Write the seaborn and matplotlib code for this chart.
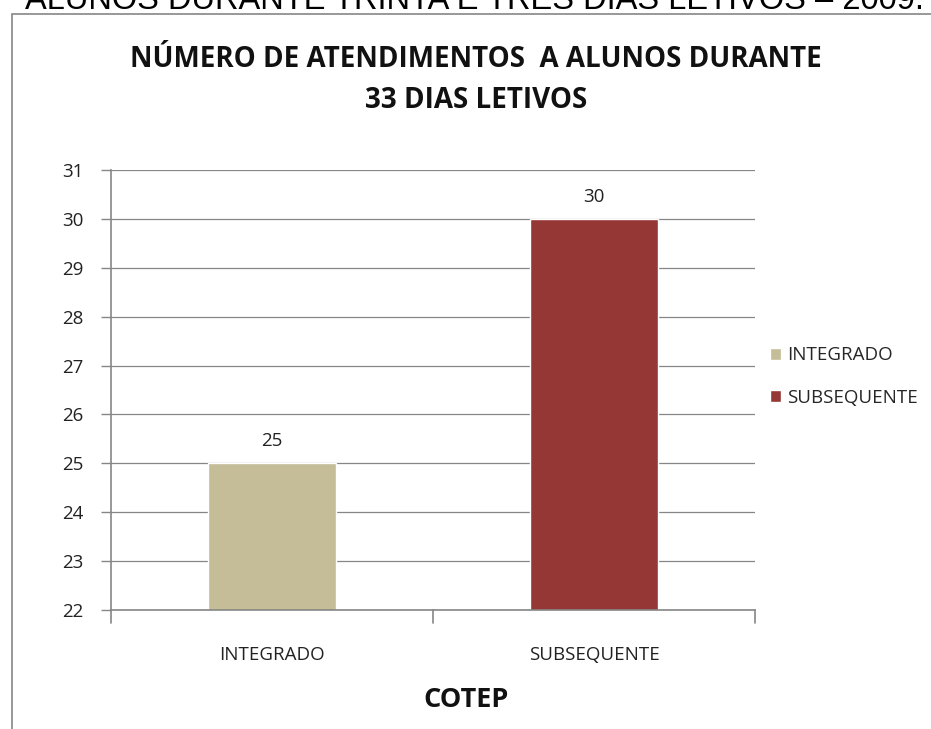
import matplotlib
matplotlib.use("Agg")
import matplotlib.pyplot as plt
import seaborn as sns
import pandas as pd
from matplotlib.patches import Rectangle

categories = ["INTEGRADO", "SUBSEQUENTE"]
values = [25, 30]
colors = ["#C4BD97", "#953735"]
yticks = list(range(22, 32))

sns.set_theme(style="white")
plt.rcParams['font.family'] = ['Open Sans', 'DejaVu Sans']

fig = plt.figure(figsize=(9.31, 7.29), dpi=100)
W, H = 931, 729
ax = fig.add_axes([111 / W, 1 - 610 / H, (755 - 111) / W, (610 - 170) / H])

df = pd.DataFrame({"cat": categories, "val": values})
sns.barplot(data=df, x="cat", y="val", hue="cat", palette=colors, width=0.4,
            ax=ax, legend=False, saturation=1)

ax.set_ylim(22, 31)
ax.set_xlim(-0.5, 1.5)
ax.set_yticks(yticks)
ax.set_yticklabels([str(t) for t in yticks], fontsize=13.5, color="#222222")
ax.set_xticks([0, 1])
ax.set_xticklabels(categories, fontsize=13.5, color="#222222")
ax.tick_params(axis="x", length=0, pad=26)
ax.tick_params(axis="y", length=7, width=1, color="#868686", left=True, pad=13)
ax.yaxis.grid(True, color="#868686", linewidth=0.9)
ax.set_axisbelow(True)
for s in ["top", "right"]:
    ax.spines[s].set_visible(False)
for s in ["left", "bottom"]:
    ax.spines[s].set_color("#868686")
    ax.spines[s].set_linewidth(1.2)
# category separator ticks on x-axis
for xb in [-0.5, 0.5, 1.5]:
    ax.plot([xb, xb], [0, -0.03], transform=ax.get_xaxis_transform(),
            color="#868686", lw=1.2, clip_on=False)

for i, v in enumerate(values):
    ax.text(i, v + 0.27, str(v), ha="center", va="bottom", fontsize=13.5, color="#222222")

ax.set_xlabel("COTEP", fontsize=19.5, fontweight="bold", color="#111111", va="center")
ax.xaxis.set_label_coords((466 - 111) / 644, -(700 - 610) / 440)
ax.set_ylabel("")

handles = [Rectangle((0, 0), 1, 1, facecolor=c) for c in colors]
fig.legend(handles, categories, loc="upper left", bbox_to_anchor=(762 / W, 1 - 339 / H),
           frameon=False, fontsize=13.5, handlelength=0.6, handleheight=0.6,
           handletextpad=0.35, labelspacing=1.3, borderaxespad=0)

fig.text(476 / W, 1 - 80 / H, "NÚMERO DE ATENDIMENTOS  A ALUNOS DURANTE\n33 DIAS LETIVOS",
         ha="center", va="center", fontsize=20, fontweight="bold", linespacing=1.55,
         color="#111111")

fig.text(474 / W, 1 - 9 / H, "ALUNOS DURANTE TRINTA E TRÊS DIAS LETIVOS – 2009.",
         ha="center", va="baseline", fontsize=23.5, family=["Liberation Sans", "DejaVu Sans"],
         color="#000000")

fig.add_artist(Rectangle((12 / W, -0.1), 1.2, 1 - 14 / H + 0.1, transform=fig.transFigure,
                         fill=False, edgecolor="#868686", linewidth=1.2))

fig.savefig("out.png", dpi=100)
